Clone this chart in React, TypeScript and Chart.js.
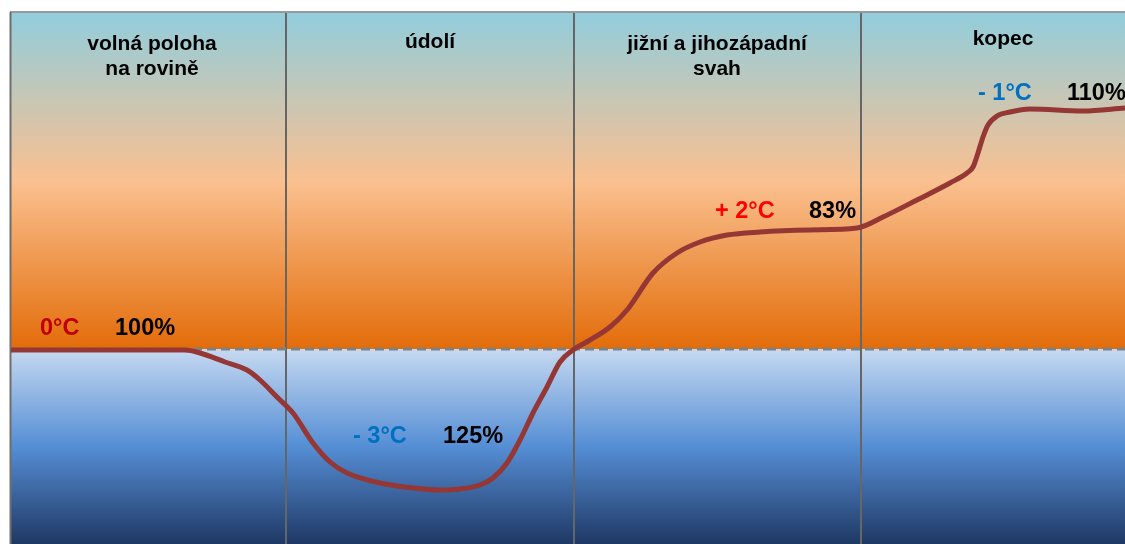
import { useEffect, useRef } from "react";
import { Chart, registerables } from "chart.js";

Chart.register(...registerables);

// Terrain profile: horizontal distance and relative height of the cold-air line
const distance = [
  0, 8.9, 17.4, 18.9, 21.4, 23.6, 24.9, 26.6, 28.2, 30.2, 31.9, 33.6, 36.9, 40.2, 42.9,
  44.9, 46.9, 48.2, 49.6, 50.9, 52.2, 53.6, 54.9, 56.2, 57.9, 59.9, 61.6, 64.2, 66.6,
  68.9, 71.6, 74.9, 79.9, 84.6, 87.2, 90.6, 93.9, 95.6, 96.2, 96.7, 97.2, 97.7, 98.6,
  99.9, 101.9, 107.2, 111.4,
];
const height = [
  -0.1, -0.1, -0.1, -0.4, -1.3, -2.1, -3.1, -4.8, -6.4, -9.4, -11.3, -12.4, -13.4, -13.9,
  -14.1, -14.0, -13.6, -12.9, -11.4, -9.1, -6.4, -3.8, -1.3, -0.1, 0.9, 2.2, 3.9, 7.6,
  9.6, 10.7, 11.4, 11.7, 11.9, 12.1, 13.2, 14.9, 16.6, 17.6, 18.2, 19.6, 21.2, 22.4, 23.3,
  23.7, 24.0, 23.8, 24.1,
];

const X_MIN = 0;
const X_MAX = 111.4;
const Y_MIN = -19.5;
const Y_MAX = 33.6;

// Section dividers and titles
const sectionBounds = [27.5, 56.3, 85.0];
const sectionTitles = [["volná poloha", "na rovině"], ["údolí"], ["jižní a jihozápadní", "svah"], ["kopec"]];
const titleX = [14.1, 41.9, 70.6, 99.2];
const titleY = [29.9, 30.1, 29.9, 30.4];

// Temperature change and relative figure per section
const tempLabels = ["0°C", "- 3°C", "+ 2°C", "- 1°C"];
const tempColors = ["#C00000", "#0070C0", "#FF0000", "#0070C0"];
const percentLabels = ["100%", "125%", "83%", "110%"];
const tempX = [2.9, 34.2, 70.4, 96.7];
const percentX = [10.4, 43.2, 79.8, 105.6];
const labelY = [1.4, -9.4, 13.1, 24.9];

const FONT = '"Liberation Sans", Arial, sans-serif';

const backdrop = {
  id: "backdrop",
  beforeDatasetsDraw(chart: any) {
    const { ctx, chartArea } = chart;
    const { left, right, top, bottom } = chartArea;
    const xs = chart.scales.x;
    const y0 = chart.scales.y.getPixelForValue(0);
    ctx.save();

    const upper = ctx.createLinearGradient(0, top, 0, y0);
    upper.addColorStop(0, "#92CDDC");
    upper.addColorStop(0.5, "#FAC090");
    upper.addColorStop(1, "#E36C09");
    ctx.fillStyle = upper;
    ctx.fillRect(left, top, right - left, y0 - top);

    const lower = ctx.createLinearGradient(0, y0, 0, bottom);
    lower.addColorStop(0, "#C6D9F1");
    lower.addColorStop(0.5, "#558ED5");
    lower.addColorStop(1, "#1F3864");
    ctx.fillStyle = lower;
    ctx.fillRect(left, y0, right - left, bottom - y0);

    // frame
    ctx.strokeStyle = "#999999";
    ctx.lineWidth = 2;
    ctx.beginPath();
    ctx.moveTo(left - 1, top - 1);
    ctx.lineTo(right, top - 1);
    ctx.stroke();
    ctx.strokeStyle = "#6E6E6E";
    ctx.beginPath();
    ctx.moveTo(left - 0.5, top - 1);
    ctx.lineTo(left - 0.5, bottom);
    ctx.stroke();

    // section dividers
    ctx.strokeStyle = "#666666";
    ctx.lineWidth = 2;
    sectionBounds.forEach((b) => {
      const px = Math.round(xs.getPixelForValue(b));
      ctx.beginPath();
      ctx.moveTo(px, top);
      ctx.lineTo(px, bottom);
      ctx.stroke();
    });

    // dashed ground level
    ctx.strokeStyle = "#808080";
    ctx.lineWidth = 3;
    ctx.setLineDash([9, 5]);
    ctx.beginPath();
    ctx.moveTo(left, y0);
    ctx.lineTo(right, y0);
    ctx.stroke();
    ctx.setLineDash([]);
    ctx.restore();
  },
  afterDatasetsDraw(chart: any) {
    const { ctx } = chart;
    const xs = chart.scales.x;
    const ys = chart.scales.y;
    ctx.save();
    ctx.textBaseline = "alphabetic";

    ctx.fillStyle = "#000000";
    ctx.textAlign = "center";
    ctx.font = `bold 21px ${FONT}`;
    sectionTitles.forEach((lines, i) => {
      const cx = xs.getPixelForValue(titleX[i]);
      const by = ys.getPixelForValue(titleY[i]);
      lines.forEach((line, j) => ctx.fillText(line, cx, by + j * 25));
    });

    ctx.textAlign = "left";
    ctx.font = `bold 23.5px ${FONT}`;
    tempLabels.forEach((t, i) => {
      const by = ys.getPixelForValue(labelY[i]);
      ctx.fillStyle = tempColors[i];
      ctx.fillText(t, xs.getPixelForValue(tempX[i]), by);
      ctx.fillStyle = "#000000";
      ctx.fillText(percentLabels[i], xs.getPixelForValue(percentX[i]), by);
    });
    ctx.restore();
  },
};

export default function App() {
  const ref = useRef<HTMLCanvasElement | null>(null);

  useEffect(() => {
    if (!ref.current) return;
    const chart = new Chart(ref.current, {
      type: "line",
      data: {
        datasets: [
          {
            data: distance.map((d, i) => ({ x: d, y: height[i] })),
            borderColor: "#953735",
            borderWidth: 5,
            pointRadius: 0,
            cubicInterpolationMode: "monotone",
            fill: false,
          },
        ],
      },
      options: {
        animation: false,
        responsive: false,
        maintainAspectRatio: false,
        layout: { padding: { left: 11, top: 13, right: 0, bottom: 0 } },
        plugins: { legend: { display: false }, tooltip: { enabled: false } },
        scales: {
          x: { type: "linear", min: X_MIN, max: X_MAX, display: false },
          y: { type: "linear", min: Y_MIN, max: Y_MAX, display: false },
        },
      },
      plugins: [backdrop],
    });
    return () => chart.destroy();
  }, []);

  return (
    <div style={{ position: "absolute", left: 0, top: 0, width: 1125, height: 544, background: "#ffffff" }}>
      <canvas ref={ref} width={1125} height={544} style={{ display: "block" }} />
    </div>
  );
}
